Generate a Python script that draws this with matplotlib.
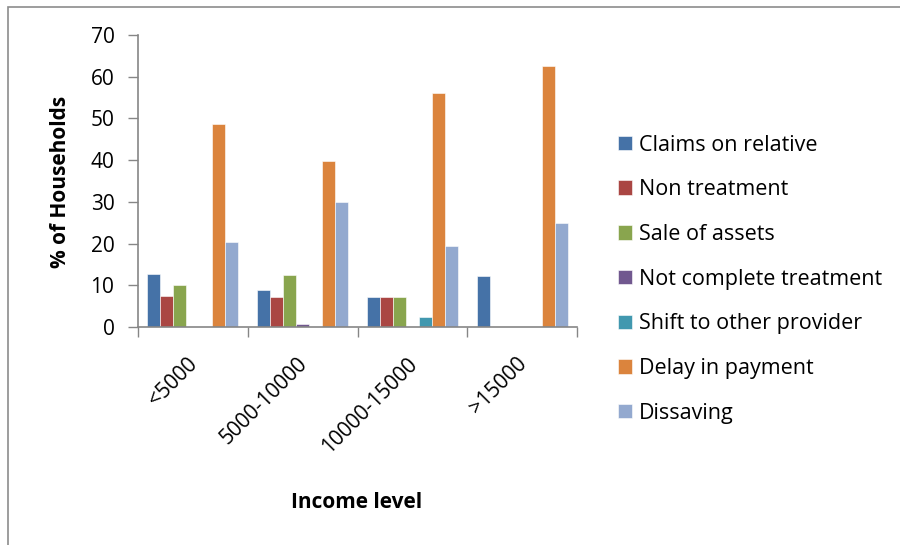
import matplotlib

matplotlib.use("Agg")
import matplotlib.pyplot as plt
import matplotlib.transforms as mtransforms
import numpy as np
from matplotlib.patches import Rectangle

plt.rcParams["font.family"] = ["Open Sans", "DejaVu Sans"]

income_levels = ["<5000", "5000-10000", "10000-15000", ">15000"]
coping = [
    "Claims on relative",
    "Non treatment",
    "Sale of assets",
    "Not complete treatment",
    "Shift to other provider",
    "Delay in payment",
    "Dissaving",
]
claims_on_relative = [12.6, 8.9, 7.1, 12.3]
non_treatment = [7.5, 7.1, 7.1, 0]
sale_of_assets = [10.1, 12.5, 7.1, 0]
not_complete = [0, 0.7, 0, 0]
shift_provider = [0, 0, 2.4, 0]
delay_payment = [48.6, 39.8, 56.1, 62.5]
dissaving = [20.4, 29.9, 19.4, 24.9]

series = [claims_on_relative, non_treatment, sale_of_assets, not_complete,
          shift_provider, delay_payment, dissaving]
colors = ["#4572A7", "#AA4643", "#89A54E", "#71588F", "#4198AF", "#DB843D", "#93A9CF"]

fig = plt.figure(figsize=(9, 5.45), dpi=100)
ax = fig.add_axes([138 / 900, 1 - 327 / 545, 439 / 900, 292 / 545])

# outer chart frame
fig.patches.append(Rectangle((8 / 900, -0.05), 1.0, 1 - 7 / 545 + 0.05,
                             transform=fig.transFigure, fill=False,
                             edgecolor="#8c8c8c", linewidth=1.2))

n = len(series)
gap = 1.46
width = 1 / (n + gap)
x = np.arange(len(income_levels))
for i, (vals, col, name) in enumerate(zip(series, colors, coping)):
    offs = -0.5 + gap * width / 2 + (i + 0.5) * width
    ax.bar(x + offs, vals, width, color=col, edgecolor="white",
           linewidth=0.4, label=name)

ax.set_xlim(-0.5, len(income_levels) - 0.5)
ax.set_ylim(0, 70)
ax.set_yticks(range(0, 71, 10))
ax.tick_params(axis="y", direction="out", length=7, width=1, color="#868686",
               labelsize=15, pad=10)

ax.set_xticks(x)
ax.set_xticklabels(income_levels, rotation=45, ha="right", fontsize=15)
ax.tick_params(axis="x", which="major", length=0, pad=19)
shift = mtransforms.ScaledTranslation(9 / 100, 0, fig.dpi_scale_trans)
for lbl in ax.get_xticklabels():
    lbl.set_transform(lbl.get_transform() + shift)
ax.set_xticks(np.arange(-0.5, len(income_levels)), minor=True)
ax.tick_params(axis="x", which="minor", direction="out", length=7, width=1,
               color="#868686")

for side in ("top", "right"):
    ax.spines[side].set_visible(False)
for side in ("left", "bottom"):
    ax.spines[side].set_color("#868686")
    ax.spines[side].set_linewidth(1.2)

fig.text(60 / 900, 1 - 182 / 545, "% of Households", rotation=90,
         ha="center", va="center", fontsize=15, fontweight="bold")
fig.text(357 / 900, 1 - 503 / 545, "Income level", ha="center", va="center",
         fontsize=15, fontweight="bold")

ax.legend(loc="upper left", bbox_to_anchor=(609 / 900, 1 - 126 / 545),
          bbox_transform=fig.transFigure, frameon=False, fontsize=15.5,
          handlelength=0.66, handleheight=0.66, handletextpad=0.35,
          labelspacing=1.1, borderaxespad=0)

fig.savefig("out.png", dpi=100)
